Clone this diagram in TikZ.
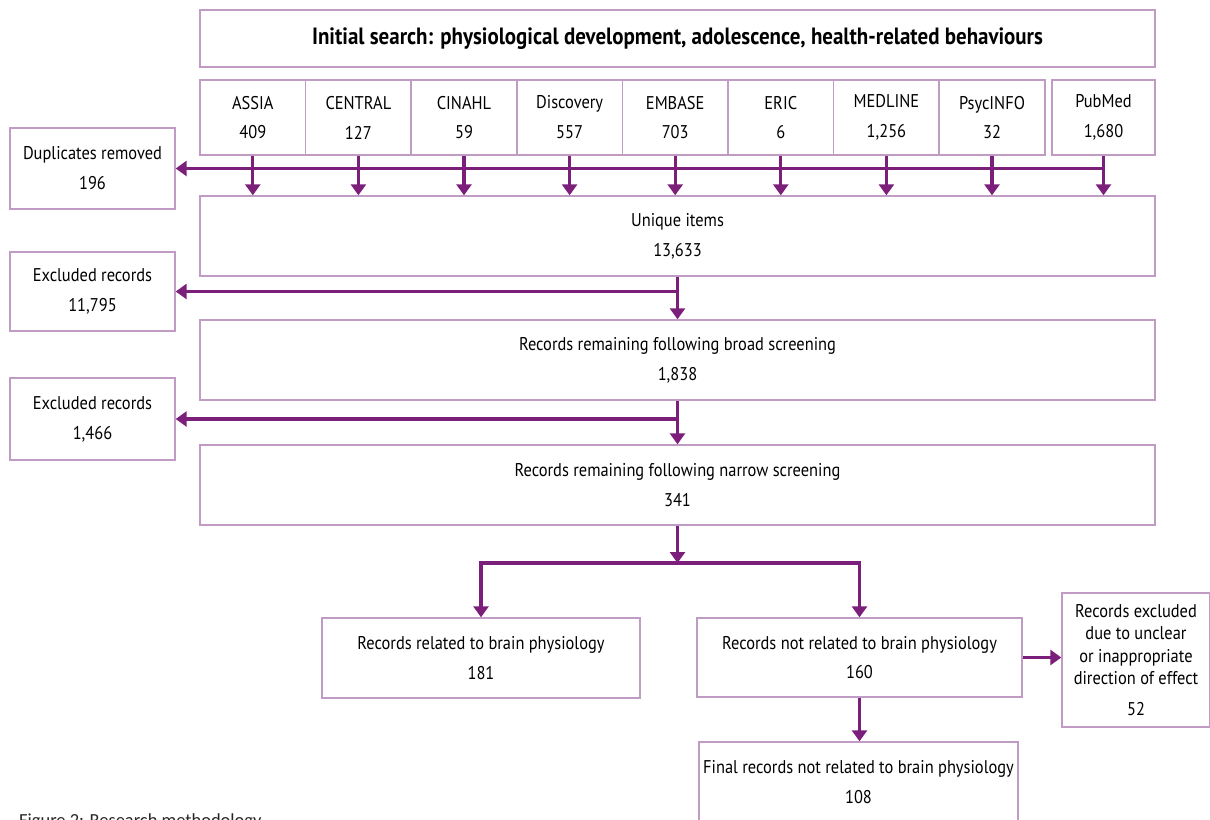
\documentclass[tikz,border=0pt]{standalone}
\usepackage{fontspec}
\setmainfont{PT Sans}[FakeStretch=0.89]
\newfontfamily\captionfont{Carlito}
\usetikzlibrary{arrows.meta}
\definecolor{plum}{HTML}{7B1F7B}
\definecolor{lilac}{HTML}{C09CC4}

\begin{document}
\begin{tikzpicture}[x=0.02cm,y=-0.02cm,
    box/.style={draw=lilac,line width=0.8pt,inner sep=0pt,align=center,font=\fontsize{10.5}{17}\selectfont},
    link/.style={plum,line width=1.8pt,-{Triangle[width=0.3cm,length=0.22cm]}}]
    \useasboundingbox (0,0) rectangle (1210,819);
    \node[box,minimum width=19.1cm,minimum height=1.14cm,font=\bfseries\fontsize{13.4}{15}\selectfont] (search) at (677.5,38.5) {Initial search: physiological development, adolescence, health-related behaviours};
    \foreach \n/\db/\hits in {1/ASSIA/409,2/CENTRAL/127,3/CINAHL/59,4/Discovery/557,5/EMBASE/703,6/ERIC/6,7/MEDLINE/{1,256},8/PsycINFO/32}
        \node[box,minimum width=2.112cm,minimum height=1.5cm] (db\n) at ({200+105.6*(\n-0.5)},117.5) {\db\\\hits};
    \node[box,minimum width=2.06cm,minimum height=1.5cm] (db9) at (1103.5,117.5) {PubMed\\1,680};
    \node[box,minimum width=3.3cm,minimum height=1.62cm] (dup) at (92.5,168.5) {Duplicates removed\\196};
    \node[box,minimum width=19.1cm,minimum height=1.6cm] (unique) at (677.5,236) {Unique items\\13,633};
    \node[box,minimum width=3.3cm,minimum height=1.58cm] (excl1) at (92.5,291.5) {Excluded records\\11,795};
    \node[box,minimum width=19.1cm,minimum height=1.6cm] (broad) at (677.5,360) {Records remaining following broad screening\\1,838};
    \node[box,minimum width=3.3cm,minimum height=1.64cm] (excl2) at (92.5,419) {Excluded records\\1,466};
    \node[box,minimum width=19.1cm,minimum height=1.6cm] (narrow) at (677.5,485) {Records remaining following narrow screening\\341};
    \node[box,minimum width=6.36cm,minimum height=1.6cm] (brain) at (481,658) {Records related to brain physiology\\181};
    \node[box,minimum width=6.5cm,minimum height=1.58cm] (other) at (859.5,657.5) {Records not related to brain physiology\\160};
    \node[box,minimum width=2.96cm,minimum height=2.68cm,font=\fontsize{10.5}{12.8}\selectfont] (unclear) at (1136,660) {Records excluded\\due to unclear\\or inappropriate\\direction of effect\\[5pt]52};
    \node[box,minimum width=6.38cm,minimum height=1.6cm] (final) at (858.5,782) {Final records not related to brain physiology\\108};
    \node[anchor=base west,text=black!85,font=\captionfont\fontsize{10.5}{12}\selectfont] (caption) at (13,826) {Figure 2: Research methodology};
    \foreach \n in {1,...,9} \draw[link] (db\n.south) -- (db\n.south |- unique.north);
    \draw[link] (db9.south |- dup.east) -- (dup.east);
    \draw[link] (unique.south) -- (broad.north);
    \draw[link] (unique.south |- excl1.east) -- (excl1.east);
    \draw[link] (broad.south) -- (narrow.north);
    \draw[link] (broad.south |- excl2.east) -- (excl2.east);
    \coordinate (split) at (677.5,563);
    \draw[link] (narrow.south) -- (split);
    \draw[link] (split) -| (brain.north);
    \draw[link] (split) -| (other.north);
    \draw[link] (other.east) -- (other.east -| unclear.west);
    \draw[link] (other.south) -- (other.south |- final.north);
\end{tikzpicture}
\end{document}
